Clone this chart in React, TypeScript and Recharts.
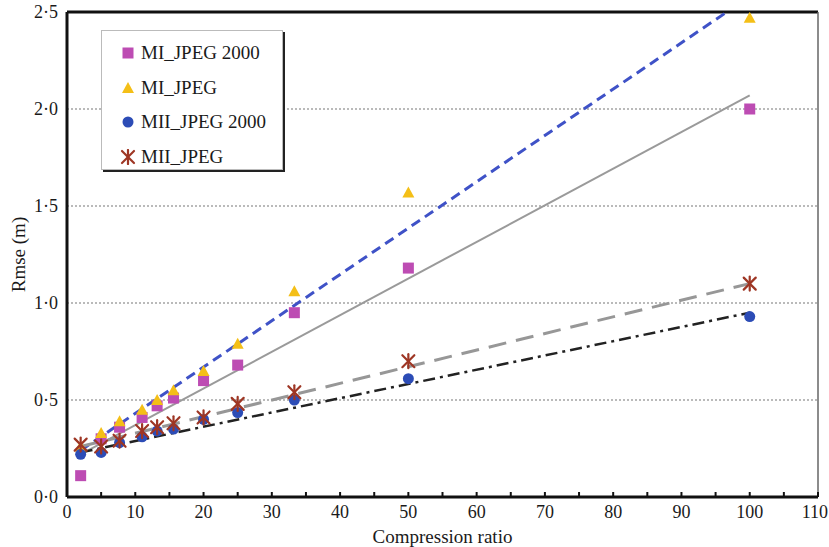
import React from 'react';
import {
  ComposedChart,
  Scatter,
  Line,
  XAxis,
  YAxis,
  CartesianGrid,
  ReferenceLine,
} from 'recharts';

// compression ratios used for every series
const ratios = [2, 5, 7.7, 11, 13.2, 15.6, 20, 25, 33.3, 50, 100];

const miJpeg2000 = [0.11, 0.3, 0.36, 0.41, 0.47, 0.51, 0.6, 0.68, 0.95, 1.18, 2.0];
const miJpeg = [0.26, 0.33, 0.39, 0.45, 0.5, 0.55, 0.65, 0.79, 1.06, 1.57, 2.47];
const miiJpeg2000 = [0.22, 0.23, 0.28, 0.31, 0.34, 0.35, 0.4, 0.435, 0.5, 0.61, 0.93];
const miiJpeg = [0.27, 0.26, 0.29, 0.34, 0.36, 0.38, 0.41, 0.48, 0.54, 0.7, 1.1];

// linear trend lines, end points
const trendX = [2, 100];
const trendMiJpeg = [0.24, 2.58];
const trendMiJpeg2000 = [0.22, 2.07];
const trendMiiJpeg = [0.26, 1.1];
const trendMiiJpeg2000 = [0.23, 0.95];

const xTicks = [0, 5, 10, 15, 20, 25, 30, 35, 40, 45, 50, 55, 60, 65, 70, 75, 80, 85, 90, 95, 100, 105, 110];
const yTicks = [0, 0.5, 1, 1.5, 2, 2.5];

const toPoints = (ys: number[], xs: number[] = ratios) => xs.map((x, i) => ({ x, y: ys[i] }));

const FONT = '"Liberation Serif", "Times New Roman", serif';
const TEXT = '#1a1a1a';

const C_SQUARE = '#BD4CB3';
const C_TRI = '#F4BF17';
const C_CIRCLE = '#2C4CB6';
const C_STAR = '#9E3624';

const Square = ({ cx, cy }: any) => <rect x={cx - 5.5} y={cy - 5.5} width={11} height={11} fill={C_SQUARE} />;
const Triangle = ({ cx, cy }: any) => (
  <polygon points={`${cx},${cy - 6} ${cx + 6},${cy + 5} ${cx - 6},${cy + 5}`} fill={C_TRI} />
);
const Circle = ({ cx, cy }: any) => <circle cx={cx} cy={cy} r={5.5} fill={C_CIRCLE} />;
const Star = ({ cx, cy }: any) => (
  <g stroke={C_STAR} strokeWidth={2.2} strokeLinecap="round">
    <line x1={cx - 6} y1={cy - 6} x2={cx + 6} y2={cy + 6} />
    <line x1={cx - 6} y1={cy + 6} x2={cx + 6} y2={cy - 6} />
    <line x1={cx} y1={cy - 7} x2={cx} y2={cy + 7} />
  </g>
);

const legendItems = [
  { name: 'MI_JPEG 2000', Shape: Square },
  { name: 'MI_JPEG', Shape: Triangle },
  { name: 'MII_JPEG 2000', Shape: Circle },
  { name: 'MII_JPEG', Shape: Star },
];

const XTick = ({ x, y, payload }: any) => {
  const last = payload.value === 110;
  return (
    <g>
      <line x1={x} x2={x} y1={y} y2={y - 5} stroke="#111" strokeWidth={2} />
      {payload.value % 10 === 0 && (
        <text
          x={last ? x + 10 : x}
          y={y + 21}
          textAnchor={last ? 'end' : 'middle'}
          fontSize={18}
          fontFamily={FONT}
          fill={TEXT}
        >
          {payload.value}
        </text>
      )}
    </g>
  );
};

const fmtY = (v: number) => v.toFixed(1).replace('.', '·');

export default function App() {
  return (
    <div style={{ position: 'absolute', left: 0, top: 0, width: 829, height: 547, background: '#fff' }}>
      <ComposedChart
        width={829}
        height={547}
        margin={{ top: 12, right: 11, left: 0, bottom: 0 }}
      >
        <CartesianGrid horizontal vertical={false} stroke="#777" strokeDasharray="2 2" strokeWidth={1.2} />
        <XAxis
          type="number"
          dataKey="x"
          domain={[0, 110]}
          ticks={xTicks}
          interval={0}
          height={50}
          tickSize={0}
          tickMargin={0}
          tick={<XTick />}
          axisLine={{ stroke: '#111', strokeWidth: 3 }}
          label={{
            value: 'Compression ratio',
            position: 'insideBottom',
            offset: 4,
            style: { fontFamily: FONT, fontSize: 19, fill: TEXT },
          }}
        />
        <YAxis
          type="number"
          dataKey="y"
          domain={[0, 2.5]}
          allowDataOverflow
          ticks={yTicks}
          interval={0}
          width={67}
          tickSize={0}
          tickMargin={9}
          tickLine={false}
          tickFormatter={fmtY}
          tick={{ fontFamily: FONT, fontSize: 18, fill: TEXT }}
          axisLine={{ stroke: '#111', strokeWidth: 3 }}
          label={{
            value: 'Rmse (m)',
            angle: -90,
            position: 'insideLeft',
            offset: 18,
            style: { fontFamily: FONT, fontSize: 19, fill: TEXT, textAnchor: 'middle' },
          }}
        />
        <ReferenceLine y={2.5} stroke="#111" strokeWidth={3} />
        <ReferenceLine x={110} stroke="#666" strokeWidth={1.5} />

        <Line data={toPoints(trendMiJpeg2000, trendX)} dataKey="y" stroke="#9a9a9a" strokeWidth={2} dot={false} isAnimationActive={false} />
        <Line data={toPoints(trendMiJpeg, trendX)} dataKey="y" stroke="#3F52C7" strokeWidth={3} strokeDasharray="10 6" dot={false} isAnimationActive={false} />
        <Line data={toPoints(trendMiiJpeg, trendX)} dataKey="y" stroke="#979797" strokeWidth={3} strokeDasharray="18 10" dot={false} isAnimationActive={false} />
        <Line data={toPoints(trendMiiJpeg2000, trendX)} dataKey="y" stroke="#222" strokeWidth={2.5} strokeDasharray="12 5 3 5" dot={false} isAnimationActive={false} />

        <Scatter name="MI_JPEG 2000" data={toPoints(miJpeg2000)} shape={<Square />} isAnimationActive={false} />
        <Scatter name="MI_JPEG" data={toPoints(miJpeg)} shape={<Triangle />} isAnimationActive={false} />
        <Scatter name="MII_JPEG 2000" data={toPoints(miiJpeg2000)} shape={<Circle />} isAnimationActive={false} />
        <Scatter name="MII_JPEG" data={toPoints(miiJpeg)} shape={<Star />} isAnimationActive={false} />
      </ComposedChart>

      <div
        style={{
          position: 'absolute',
          left: 101,
          top: 30,
          width: 180,
          height: 138,
          background: '#fff',
          border: '1px solid #bbb',
          boxShadow: '2px 2px 0 #222',
          fontFamily: FONT,
          fontSize: 19,
          color: TEXT,
        }}
      >
        {legendItems.map(({ name, Shape }, i) => (
          <div key={name} style={{ position: 'absolute', left: 18, top: 10 + i * 34.5, height: 24, display: 'flex', alignItems: 'center' }}>
            <svg width={16} height={16} style={{ marginRight: 5 }}>
              <Shape cx={8} cy={8} />
            </svg>
            <span>{name}</span>
          </div>
        ))}
      </div>
    </div>
  );
}
